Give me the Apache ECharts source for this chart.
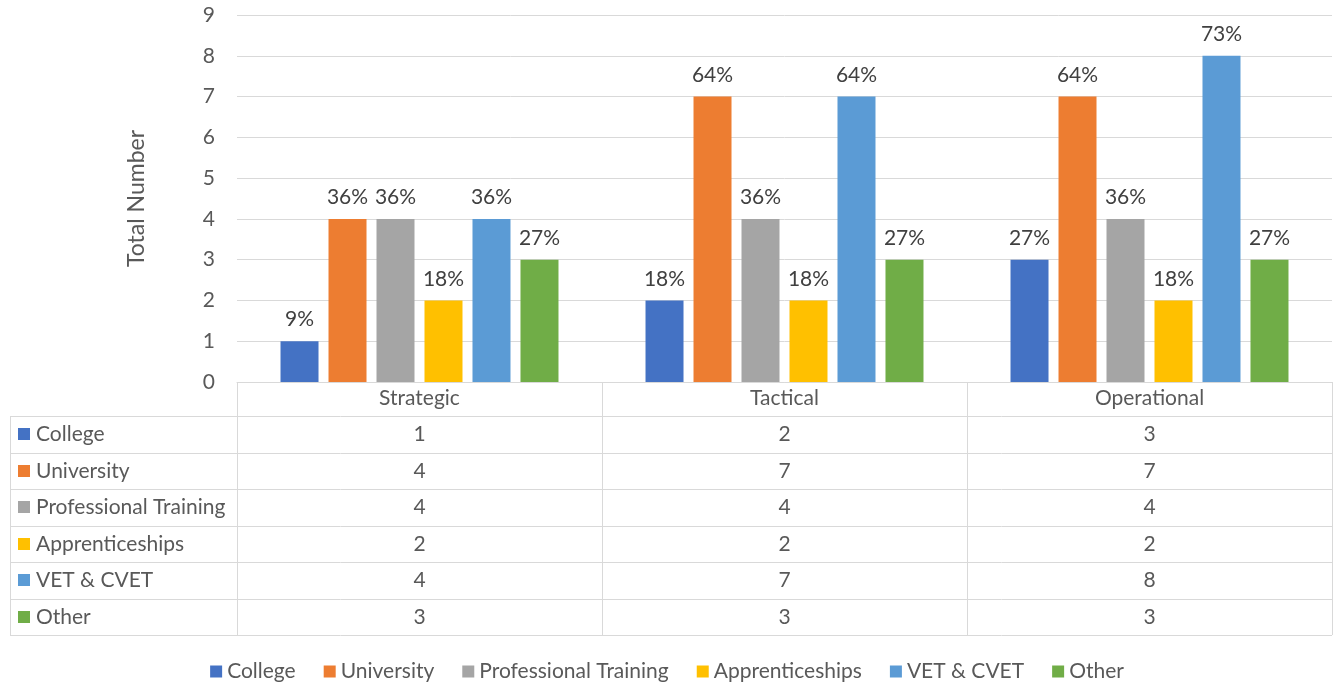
<!DOCTYPE html>
<html>
<head>
<meta charset="utf-8">
<script src="https://cdn.jsdelivr.net/npm/echarts@6/dist/echarts.min.js"></script>
<style>
html,body{margin:0;padding:0;background:#fff;}
#chart{width:1334px;height:683px;}
</style>
</head>
<body>
<div id="chart"></div>
<script>
// ---- data ----
const categories = ['Strategic', 'Tactical', 'Operational'];
const seriesNames = ['College', 'University', 'Professional Training', 'Apprenticeships', 'VET & CVET', 'Other'];
const college = [1, 2, 3];
const university = [4, 7, 7];
const professionalTraining = [4, 4, 4];
const apprenticeships = [2, 2, 2];
const vetCvet = [4, 7, 8];
const other = [3, 3, 3];
const collegePct = ['9%', '18%', '27%'];
const universityPct = ['36%', '64%', '64%'];
const professionalPct = ['36%', '36%', '36%'];
const apprenticeshipsPct = ['18%', '18%', '18%'];
const vetPct = ['36%', '64%', '73%'];
const otherPct = ['27%', '27%', '27%'];
const yTicks = [0, 1, 2, 3, 4, 5, 6, 7, 8, 9];

// ---- styles / layout ----
const colors = ['#4472C4', '#ED7D31', '#A5A5A5', '#FFC000', '#5B9BD5', '#70AD47'];
const FONT = 'Lato';
const FS = 21;
const W = 1334;
const gridLeft = 237, gridRight = 2, gridTop = 15, axisY = 382;
const plotRight = W - gridRight;
const headerBottom = 416;
const rowH = 36.5;
const tableLeft = 10;
const lineColor = '#D9D9D9';
const textColor = '#595959';

const values = [college, university, professionalTraining, apprenticeships, vetCvet, other];
const pcts = [collegePct, universityPct, professionalPct, apprenticeshipsPct, vetPct, otherPct];

const chart = echarts.init(document.getElementById('chart'), null, {renderer: 'canvas'});

const series = seriesNames.map((name, i) => ({
  name: name,
  type: 'bar',
  data: values[i],
  barWidth: 38,
  barGap: '26.3%',
  itemStyle: {color: colors[i]},
  label: {
    show: true,
    position: 'top',
    distance: 11,
    fontFamily: FONT,
    fontSize: FS,
    color: '#404040',
    formatter: p => pcts[i][p.dataIndex]
  }
}));

chart.setOption({
  animation: false,
  textStyle: {fontFamily: FONT},
  grid: {left: gridLeft, right: gridRight, top: gridTop, bottom: 683 - axisY, containLabel: false},
  xAxis: {
    type: 'category',
    data: categories,
    axisLine: {show: true, lineStyle: {color: lineColor, width: 1}},
    axisTick: {show: true, alignWithLabel: false, interval: 0, length: 635 - axisY, lineStyle: {color: lineColor}},
    axisLabel: {show: true, interval: 0, margin: 6, fontFamily: FONT, fontSize: FS, color: textColor}
  },
  yAxis: {
    type: 'value',
    min: yTicks[0],
    max: yTicks[yTicks.length - 1],
    interval: 1,
    name: 'Total Number',
    nameLocation: 'middle',
    nameRotate: 90,
    nameGap: 89,
    nameTextStyle: {fontFamily: FONT, fontSize: 23, color: textColor},
    axisLine: {show: false},
    axisTick: {show: false},
    axisLabel: {margin: 22, fontFamily: FONT, fontSize: FS, color: textColor},
    splitLine: {lineStyle: {color: lineColor, width: 1}}
  },
  legend: {
    data: seriesNames,
    top: 656,
    left: 'center',
    icon: 'rect',
    itemWidth: 12,
    itemHeight: 12,
    itemGap: 28,
    textStyle: {fontFamily: FONT, fontSize: FS, color: textColor}
  },
  series: series
});

// ---- data table below the axis ----
const g = [];
const tableBottom = headerBottom + rowH * seriesNames.length;
for (let r = 0; r <= seriesNames.length; r++) {
  const y = Math.round(headerBottom + r * rowH) + 0.5;
  g.push({type: 'line', shape: {x1: tableLeft, y1: y, x2: plotRight, y2: y}, style: {stroke: lineColor, lineWidth: 1}, silent: true});
}
g.push({type: 'line', shape: {x1: tableLeft + 0.5, y1: headerBottom, x2: tableLeft + 0.5, y2: Math.round(tableBottom) + 0.5}, style: {stroke: lineColor, lineWidth: 1}, silent: true});

seriesNames.forEach((name, i) => {
  const cy = headerBottom + rowH * (i + 0.5);
  g.push({type: 'rect', shape: {x: 18, y: Math.round(cy - 6), width: 12, height: 12}, style: {fill: colors[i]}, silent: true});
  g.push({type: 'text', x: 36, y: cy, style: {text: name, font: FS + 'px ' + FONT, fill: textColor, textAlign: 'left', textVerticalAlign: 'middle'}, silent: true});
  categories.forEach((c, j) => {
    const cx = chart.convertToPixel({xAxisIndex: 0}, c);
    g.push({type: 'text', x: cx, y: cy, style: {text: String(values[i][j]), font: FS + 'px ' + FONT, fill: textColor, textAlign: 'center', textVerticalAlign: 'middle'}, silent: true});
  });
});

chart.setOption({graphic: g});
</script>
</body>
</html>
